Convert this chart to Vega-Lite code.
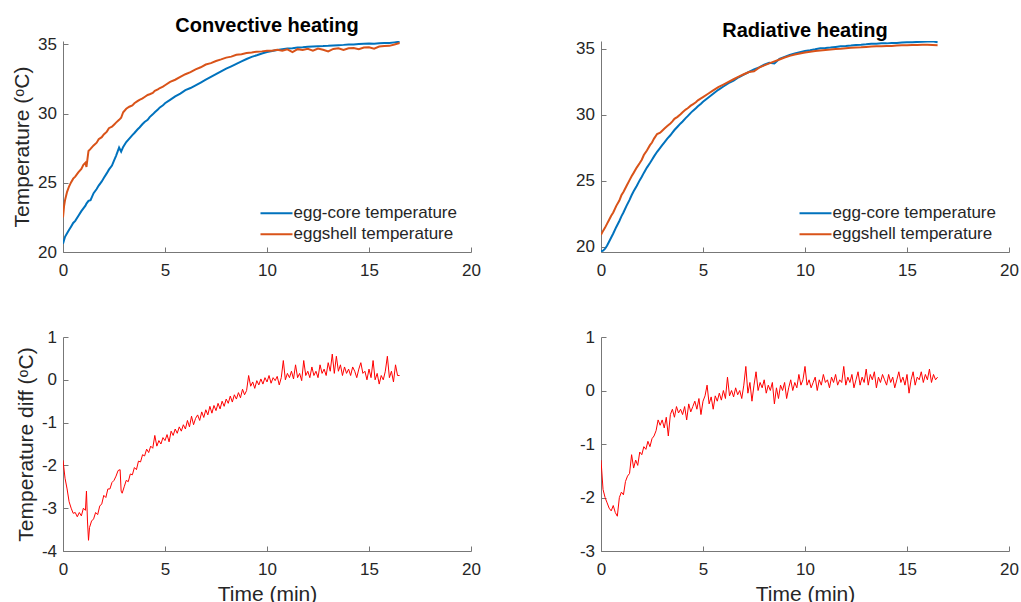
{
"$schema": "https://vega.github.io/schema/vega-lite/v6.json",
"background": "white",
"padding": {"left": 11, "top": 16, "right": 5, "bottom": 5},
"columns": 2,
"spacing": {"row": 85, "column": 130},
"bounds": "flush",
"resolve": {"scale": {"x": "independent", "y": "independent", "color": "independent"}, "legend": {"color": "independent"}},
"config": {
  "font": "Liberation Sans",
  "view": {"stroke": null},
  "title": {"fontSize": 20, "fontWeight": "bold", "color": "#000000", "frame": "group", "anchor": "middle", "baseline": "alphabetic", "offset": -1},
  "axis": {"grid": false, "labelFontSize": 17, "labelColor": "#262626", "titleFontSize": 21, "titleFontWeight": "normal", "titleColor": "#262626", "domainColor": "#777777", "tickColor": "#777777", "tickSize": -5, "labelFlush": false, "labelOverlap": false},
  "axisX": {"labelPadding": 15},
  "axisY": {"labelPadding": 11.5, "titleBaseline": "alphabetic", "titleAngle": -90}
},
"datasets": {
"convTop": [
{"t":0,"core":20.6,"shell":22.5},{"t":0.05,"core":20.85,"shell":23.3},{"t":0.1,"core":21.1,"shell":23.75},{"t":0.2,"core":21.35,"shell":24.35},{"t":0.3,"core":21.6,"shell":24.75},{"t":0.4,"core":21.85,"shell":25.05},{"t":0.5,"core":22.1,"shell":25.3},{"t":0.6,"core":22.25,"shell":25.45},{"t":0.75,"core":22.6,"shell":25.75},{"t":0.9,"core":22.95,"shell":26.0},{"t":1.0,"core":23.15,"shell":26.3},{"t":1.1,"core":23.35,"shell":26.45},{"t":1.15,"core":23.5,"shell":26.15},{"t":1.25,"core":23.7,"shell":27.3},{"t":1.35,"core":23.75,"shell":27.45},{"t":1.5,"core":24.25,"shell":27.7},{"t":1.65,"core":24.55,"shell":27.9},{"t":1.75,"core":24.8,"shell":28.15},{"t":1.9,"core":25.1,"shell":28.3},{"t":2.0,"core":25.35,"shell":28.5},{"t":2.15,"core":25.7,"shell":28.7},{"t":2.25,"core":25.95,"shell":28.95},{"t":2.4,"core":26.25,"shell":29.05},{"t":2.5,"core":26.6,"shell":29.2},{"t":2.6,"core":26.95,"shell":29.35},{"t":2.75,"core":27.55,"shell":29.55},{"t":2.85,"core":27.25,"shell":29.7},{"t":2.95,"core":27.6,"shell":30.1},{"t":3.1,"core":27.95,"shell":30.35},{"t":3.25,"core":28.2,"shell":30.5},{"t":3.4,"core":28.45,"shell":30.6},{"t":3.5,"core":28.6,"shell":30.75},{"t":3.65,"core":28.85,"shell":30.9},{"t":3.75,"core":29.0,"shell":31.0},{"t":3.9,"core":29.25,"shell":31.1},{"t":4.0,"core":29.4,"shell":31.2},{"t":4.15,"core":29.55,"shell":31.35},{"t":4.25,"core":29.75,"shell":31.4},{"t":4.4,"core":29.95,"shell":31.5},{"t":4.5,"core":30.1,"shell":31.65},{"t":4.65,"core":30.3,"shell":31.75},{"t":4.75,"core":30.45,"shell":31.85},{"t":4.9,"core":30.6,"shell":31.95},{"t":5.0,"core":30.75,"shell":32.05},{"t":5.25,"core":31.0,"shell":32.3},{"t":5.5,"core":31.25,"shell":32.45},{"t":5.75,"core":31.45,"shell":32.65},{"t":6.0,"core":31.7,"shell":32.85},{"t":6.25,"core":31.85,"shell":33.0},{"t":6.5,"core":32.05,"shell":33.2},{"t":6.75,"core":32.25,"shell":33.35},{"t":7.0,"core":32.45,"shell":33.55},{"t":7.25,"core":32.65,"shell":33.65},{"t":7.5,"core":32.85,"shell":33.8},{"t":7.75,"core":33.05,"shell":33.92},{"t":8.0,"core":33.25,"shell":34.05},{"t":8.25,"core":33.42,"shell":34.12},{"t":8.5,"core":33.6,"shell":34.25},{"t":8.75,"core":33.78,"shell":34.3},{"t":9.0,"core":33.95,"shell":34.38},{"t":9.25,"core":34.1,"shell":34.42},{"t":9.5,"core":34.22,"shell":34.48},{"t":9.75,"core":34.35,"shell":34.5},{"t":10.0,"core":34.45,"shell":34.55},{"t":10.25,"core":34.52,"shell":34.55},{"t":10.5,"core":34.6,"shell":34.62},{"t":10.75,"core":34.65,"shell":34.55},{"t":11.0,"core":34.7,"shell":34.65},{"t":11.25,"core":34.72,"shell":34.45},{"t":11.5,"core":34.78,"shell":34.66},{"t":11.75,"core":34.8,"shell":34.6},{"t":12.0,"core":34.83,"shell":34.68},{"t":12.25,"core":34.85,"shell":34.55},{"t":12.5,"core":34.87,"shell":34.7},{"t":12.75,"core":34.88,"shell":34.62},{"t":13.0,"core":34.9,"shell":34.5},{"t":13.25,"core":34.93,"shell":34.68},{"t":13.5,"core":34.95,"shell":34.72},{"t":13.75,"core":34.97,"shell":34.6},{"t":14.0,"core":35.0,"shell":34.72},{"t":14.25,"core":35.0,"shell":34.75},{"t":14.5,"core":35.03,"shell":34.65},{"t":14.75,"core":35.05,"shell":34.78},{"t":15.0,"core":35.07,"shell":34.8},{"t":15.25,"core":35.06,"shell":34.7},{"t":15.5,"core":35.08,"shell":34.85},{"t":15.75,"core":35.1,"shell":34.88},{"t":16.0,"core":35.1,"shell":34.9},{"t":16.25,"core":35.15,"shell":35.0},{"t":16.5,"core":35.2,"shell":35.1}
],
"radTop": [
{"t":0,"core":19.65,"shell":20.9},{"t":0.1,"core":19.7,"shell":21.2},{"t":0.2,"core":19.85,"shell":21.45},{"t":0.3,"core":20.1,"shell":21.75},{"t":0.4,"core":20.4,"shell":22.05},{"t":0.5,"core":20.7,"shell":22.35},{"t":0.6,"core":21.0,"shell":22.6},{"t":0.75,"core":21.5,"shell":23.1},{"t":0.9,"core":21.95,"shell":23.5},{"t":1.0,"core":22.3,"shell":23.9},{"t":1.1,"core":22.6,"shell":24.15},{"t":1.25,"core":23.1,"shell":24.6},{"t":1.4,"core":23.55,"shell":25.05},{"t":1.5,"core":23.9,"shell":25.35},{"t":1.6,"core":24.2,"shell":25.6},{"t":1.75,"core":24.6,"shell":26.0},{"t":1.9,"core":25.05,"shell":26.35},{"t":2.0,"core":25.3,"shell":26.6},{"t":2.1,"core":25.6,"shell":26.95},{"t":2.25,"core":26.0,"shell":27.3},{"t":2.4,"core":26.35,"shell":27.7},{"t":2.5,"core":26.6,"shell":27.9},{"t":2.6,"core":26.85,"shell":28.2},{"t":2.75,"core":27.2,"shell":28.55},{"t":2.9,"core":27.5,"shell":28.65},{"t":3.0,"core":27.7,"shell":28.8},{"t":3.1,"core":27.9,"shell":28.95},{"t":3.25,"core":28.2,"shell":29.15},{"t":3.4,"core":28.45,"shell":29.35},{"t":3.5,"core":28.65,"shell":29.5},{"t":3.6,"core":28.85,"shell":29.7},{"t":3.75,"core":29.1,"shell":29.85},{"t":3.9,"core":29.35,"shell":30.05},{"t":4.0,"core":29.5,"shell":30.2},{"t":4.15,"core":29.75,"shell":30.4},{"t":4.25,"core":29.9,"shell":30.5},{"t":4.4,"core":30.15,"shell":30.7},{"t":4.5,"core":30.3,"shell":30.8},{"t":4.65,"core":30.5,"shell":30.95},{"t":4.75,"core":30.65,"shell":31.1},{"t":4.9,"core":30.85,"shell":31.25},{"t":5.0,"core":31.0,"shell":31.35},{"t":5.25,"core":31.3,"shell":31.6},{"t":5.5,"core":31.6,"shell":31.85},{"t":5.75,"core":31.9,"shell":32.1},{"t":6.0,"core":32.15,"shell":32.3},{"t":6.25,"core":32.4,"shell":32.5},{"t":6.5,"core":32.6,"shell":32.7},{"t":6.75,"core":32.85,"shell":32.9},{"t":7.0,"core":33.05,"shell":33.08},{"t":7.25,"core":33.25,"shell":33.25},{"t":7.5,"core":33.45,"shell":33.3},{"t":7.75,"core":33.6,"shell":33.58},{"t":8.0,"core":33.8,"shell":33.75},{"t":8.25,"core":33.95,"shell":33.9},{"t":8.5,"core":33.9,"shell":34.05},{"t":8.75,"core":34.25,"shell":34.2},{"t":9.0,"core":34.4,"shell":34.35},{"t":9.25,"core":34.55,"shell":34.47},{"t":9.5,"core":34.65,"shell":34.57},{"t":9.75,"core":34.75,"shell":34.65},{"t":10.0,"core":34.85,"shell":34.72},{"t":10.25,"core":34.9,"shell":34.78},{"t":10.5,"core":34.97,"shell":34.84},{"t":10.75,"core":35.05,"shell":34.88},{"t":11.0,"core":35.07,"shell":34.92},{"t":11.25,"core":35.1,"shell":34.95},{"t":11.5,"core":35.15,"shell":35.0},{"t":11.75,"core":35.2,"shell":35.02},{"t":12.0,"core":35.22,"shell":35.05},{"t":12.25,"core":35.25,"shell":35.08},{"t":12.5,"core":35.3,"shell":35.1},{"t":12.75,"core":35.32,"shell":35.12},{"t":13.0,"core":35.35,"shell":35.15},{"t":13.25,"core":35.4,"shell":35.18},{"t":13.5,"core":35.4,"shell":35.2},{"t":13.75,"core":35.42,"shell":35.2},{"t":14.0,"core":35.42,"shell":35.22},{"t":14.25,"core":35.45,"shell":35.23},{"t":14.5,"core":35.45,"shell":35.25},{"t":14.75,"core":35.48,"shell":35.27},{"t":15.0,"core":35.5,"shell":35.28},{"t":15.25,"core":35.5,"shell":35.3},{"t":15.5,"core":35.53,"shell":35.3},{"t":15.75,"core":35.55,"shell":35.32},{"t":16.0,"core":35.56,"shell":35.32},{"t":16.25,"core":35.58,"shell":35.3},{"t":16.5,"core":35.5,"shell":35.28}
],
"convDiff": [
{"t":0,"d":-1.88},{"t":0.1,"d":-2.3},{"t":0.2,"d":-2.55},{"t":0.3,"d":-2.85},{"t":0.4,"d":-3.0},{"t":0.5,"d":-3.12},{"t":0.6,"d":-3.1},{"t":0.7,"d":-3.2},{"t":0.8,"d":-3.1},{"t":0.9,"d":-3.18},{"t":1.0,"d":-3.0},{"t":1.1,"d":-3.05},{"t":1.15,"d":-2.6},{"t":1.2,"d":-3.3},{"t":1.25,"d":-3.75},{"t":1.3,"d":-3.45},{"t":1.4,"d":-3.3},{"t":1.5,"d":-3.25},{"t":1.6,"d":-3.1},{"t":1.7,"d":-3.15},{"t":1.8,"d":-2.95},{"t":1.9,"d":-2.9},{"t":2.0,"d":-2.7},{"t":2.1,"d":-2.75},{"t":2.2,"d":-2.55},{"t":2.3,"d":-2.55},{"t":2.4,"d":-2.4},{"t":2.5,"d":-2.35},{"t":2.6,"d":-2.25},{"t":2.7,"d":-2.12},{"t":2.8,"d":-2.1},{"t":2.85,"d":-2.6},{"t":2.9,"d":-2.65},{"t":3.0,"d":-2.5},{"t":3.1,"d":-2.35},{"t":3.2,"d":-2.38},{"t":3.3,"d":-2.2},{"t":3.4,"d":-2.22},{"t":3.5,"d":-2.05},{"t":3.6,"d":-2.1},{"t":3.7,"d":-1.9},{"t":3.8,"d":-1.92},{"t":3.9,"d":-1.75},{"t":4.0,"d":-1.78},{"t":4.1,"d":-1.62},{"t":4.2,"d":-1.7},{"t":4.3,"d":-1.55},{"t":4.4,"d":-1.6},{"t":4.5,"d":-1.3},{"t":4.6,"d":-1.55},{"t":4.7,"d":-1.42},{"t":4.8,"d":-1.5},{"t":4.9,"d":-1.35},{"t":5.0,"d":-1.42},{"t":5.1,"d":-1.28},{"t":5.2,"d":-1.45},{"t":5.3,"d":-1.2},{"t":5.4,"d":-1.3},{"t":5.5,"d":-1.15},{"t":5.6,"d":-1.25},{"t":5.7,"d":-1.1},{"t":5.8,"d":-1.2},{"t":5.9,"d":-1.05},{"t":6.0,"d":-1.15},{"t":6.1,"d":-0.95},{"t":6.2,"d":-1.1},{"t":6.3,"d":-0.85},{"t":6.4,"d":-1.05},{"t":6.5,"d":-0.9},{"t":6.6,"d":-0.82},{"t":6.7,"d":-0.95},{"t":6.8,"d":-0.75},{"t":6.9,"d":-0.88},{"t":7.0,"d":-0.7},{"t":7.1,"d":-0.82},{"t":7.2,"d":-0.62},{"t":7.3,"d":-0.78},{"t":7.4,"d":-0.6},{"t":7.5,"d":-0.72},{"t":7.6,"d":-0.55},{"t":7.7,"d":-0.68},{"t":7.8,"d":-0.5},{"t":7.9,"d":-0.62},{"t":8.0,"d":-0.45},{"t":8.1,"d":-0.55},{"t":8.2,"d":-0.38},{"t":8.3,"d":-0.52},{"t":8.4,"d":-0.35},{"t":8.5,"d":-0.45},{"t":8.6,"d":-0.3},{"t":8.7,"d":-0.42},{"t":8.8,"d":-0.22},{"t":8.9,"d":-0.35},{"t":9.0,"d":-0.25},{"t":9.1,"d":0.1},{"t":9.2,"d":-0.15},{"t":9.3,"d":-0.05},{"t":9.4,"d":-0.2},{"t":9.5,"d":-0.02},{"t":9.6,"d":-0.12},{"t":9.7,"d":0.02},{"t":9.8,"d":-0.1},{"t":9.9,"d":0.05},{"t":10.0,"d":-0.05},{"t":10.1,"d":0.1},{"t":10.2,"d":-0.08},{"t":10.3,"d":0.05},{"t":10.4,"d":-0.02},{"t":10.5,"d":0.08},{"t":10.6,"d":-0.12},{"t":10.7,"d":0.05},{"t":10.8,"d":0.45},{"t":10.9,"d":0.0},{"t":11.0,"d":0.15},{"t":11.1,"d":0.05},{"t":11.2,"d":0.2},{"t":11.3,"d":0.02},{"t":11.4,"d":0.35},{"t":11.5,"d":0.05},{"t":11.6,"d":0.15},{"t":11.7,"d":-0.02},{"t":11.8,"d":0.45},{"t":11.9,"d":0.1},{"t":12.0,"d":0.2},{"t":12.1,"d":0.05},{"t":12.2,"d":0.3},{"t":12.3,"d":0.1},{"t":12.4,"d":0.2},{"t":12.5,"d":0.05},{"t":12.6,"d":0.35},{"t":12.7,"d":0.15},{"t":12.8,"d":0.25},{"t":12.9,"d":0.1},{"t":13.0,"d":0.4},{"t":13.1,"d":0.2},{"t":13.2,"d":0.6},{"t":13.3,"d":0.15},{"t":13.4,"d":0.55},{"t":13.5,"d":0.2},{"t":13.6,"d":0.35},{"t":13.7,"d":0.1},{"t":13.8,"d":0.3},{"t":13.9,"d":0.15},{"t":14.0,"d":0.25},{"t":14.1,"d":0.1},{"t":14.2,"d":0.3},{"t":14.3,"d":0.2},{"t":14.4,"d":0.05},{"t":14.5,"d":0.25},{"t":14.6,"d":0.4},{"t":14.7,"d":0.15},{"t":14.8,"d":0.2},{"t":14.9,"d":0.0},{"t":15.0,"d":0.25},{"t":15.1,"d":0.05},{"t":15.2,"d":0.45},{"t":15.3,"d":0.0},{"t":15.4,"d":0.15},{"t":15.5,"d":-0.1},{"t":15.6,"d":0.1},{"t":15.7,"d":0.0},{"t":15.8,"d":0.2},{"t":15.9,"d":0.55},{"t":16.0,"d":0.05},{"t":16.1,"d":0.2},{"t":16.2,"d":-0.05},{"t":16.3,"d":0.35},{"t":16.4,"d":0.1},{"t":16.5,"d":0.1}
],
"radDiff": [
{"t":0,"d":-1.3},{"t":0.1,"d":-1.85},{"t":0.2,"d":-2.0},{"t":0.3,"d":-2.1},{"t":0.4,"d":-2.2},{"t":0.5,"d":-2.25},{"t":0.6,"d":-2.15},{"t":0.7,"d":-2.28},{"t":0.8,"d":-2.35},{"t":0.9,"d":-2.0},{"t":1.0,"d":-1.9},{"t":1.1,"d":-1.95},{"t":1.2,"d":-1.7},{"t":1.3,"d":-1.6},{"t":1.4,"d":-1.55},{"t":1.5,"d":-1.2},{"t":1.6,"d":-1.45},{"t":1.7,"d":-1.3},{"t":1.8,"d":-1.4},{"t":1.9,"d":-1.15},{"t":2.0,"d":-1.2},{"t":2.1,"d":-1.05},{"t":2.2,"d":-1.1},{"t":2.3,"d":-0.95},{"t":2.4,"d":-1.05},{"t":2.5,"d":-0.9},{"t":2.6,"d":-0.85},{"t":2.7,"d":-0.75},{"t":2.8,"d":-0.55},{"t":2.9,"d":-0.65},{"t":3.0,"d":-0.55},{"t":3.1,"d":-0.7},{"t":3.2,"d":-0.5},{"t":3.3,"d":-0.85},{"t":3.4,"d":-0.45},{"t":3.5,"d":-0.35},{"t":3.6,"d":-0.5},{"t":3.7,"d":-0.3},{"t":3.8,"d":-0.42},{"t":3.9,"d":-0.35},{"t":4.0,"d":-0.45},{"t":4.1,"d":-0.3},{"t":4.2,"d":-0.55},{"t":4.3,"d":-0.25},{"t":4.4,"d":-0.4},{"t":4.5,"d":-0.3},{"t":4.6,"d":-0.2},{"t":4.7,"d":-0.35},{"t":4.8,"d":-0.15},{"t":4.9,"d":-0.45},{"t":5.0,"d":-0.2},{"t":5.1,"d":-0.1},{"t":5.2,"d":0.1},{"t":5.3,"d":-0.25},{"t":5.4,"d":-0.12},{"t":5.5,"d":-0.35},{"t":5.6,"d":-0.1},{"t":5.7,"d":-0.2},{"t":5.8,"d":-0.05},{"t":5.9,"d":-0.18},{"t":6.0,"d":0.0},{"t":6.1,"d":-0.15},{"t":6.2,"d":0.25},{"t":6.3,"d":-0.1},{"t":6.4,"d":0.0},{"t":6.5,"d":-0.12},{"t":6.6,"d":0.05},{"t":6.7,"d":-0.08},{"t":6.8,"d":0.0},{"t":6.9,"d":-0.15},{"t":7.0,"d":0.1},{"t":7.1,"d":0.45},{"t":7.2,"d":-0.05},{"t":7.3,"d":0.15},{"t":7.4,"d":-0.2},{"t":7.5,"d":0.1},{"t":7.6,"d":0.35},{"t":7.7,"d":0.0},{"t":7.8,"d":0.15},{"t":7.9,"d":0.05},{"t":8.0,"d":0.2},{"t":8.1,"d":-0.05},{"t":8.2,"d":0.1},{"t":8.3,"d":0.0},{"t":8.4,"d":0.15},{"t":8.5,"d":-0.25},{"t":8.6,"d":0.05},{"t":8.7,"d":-0.15},{"t":8.8,"d":0.1},{"t":8.9,"d":0.0},{"t":9.0,"d":0.15},{"t":9.1,"d":-0.15},{"t":9.2,"d":0.05},{"t":9.3,"d":0.2},{"t":9.4,"d":0.0},{"t":9.5,"d":0.15},{"t":9.6,"d":0.05},{"t":9.7,"d":0.3},{"t":9.8,"d":0.1},{"t":9.9,"d":0.2},{"t":10.0,"d":0.45},{"t":10.1,"d":0.1},{"t":10.2,"d":0.2},{"t":10.3,"d":0.05},{"t":10.4,"d":0.15},{"t":10.5,"d":0.25},{"t":10.6,"d":0.0},{"t":10.7,"d":0.2},{"t":10.8,"d":0.1},{"t":10.9,"d":0.3},{"t":11.0,"d":0.15},{"t":11.1,"d":0.2},{"t":11.2,"d":0.05},{"t":11.3,"d":0.25},{"t":11.4,"d":0.15},{"t":11.5,"d":0.3},{"t":11.6,"d":0.1},{"t":11.7,"d":0.2},{"t":11.8,"d":0.15},{"t":11.9,"d":0.45},{"t":12.0,"d":0.1},{"t":12.1,"d":0.25},{"t":12.2,"d":0.15},{"t":12.3,"d":0.3},{"t":12.4,"d":0.05},{"t":12.5,"d":0.2},{"t":12.6,"d":0.35},{"t":12.7,"d":0.1},{"t":12.8,"d":0.25},{"t":12.9,"d":0.15},{"t":13.0,"d":0.4},{"t":13.1,"d":0.1},{"t":13.2,"d":0.3},{"t":13.3,"d":0.2},{"t":13.4,"d":0.35},{"t":13.5,"d":0.05},{"t":13.6,"d":0.25},{"t":13.7,"d":0.15},{"t":13.8,"d":0.3},{"t":13.9,"d":0.2},{"t":14.0,"d":0.1},{"t":14.1,"d":0.3},{"t":14.2,"d":0.15},{"t":14.3,"d":0.25},{"t":14.4,"d":0.05},{"t":14.5,"d":0.2},{"t":14.6,"d":0.35},{"t":14.7,"d":0.15},{"t":14.8,"d":0.25},{"t":14.9,"d":0.1},{"t":15.0,"d":0.3},{"t":15.1,"d":-0.05},{"t":15.2,"d":0.2},{"t":15.3,"d":0.35},{"t":15.4,"d":0.1},{"t":15.5,"d":0.25},{"t":15.6,"d":0.2},{"t":15.7,"d":0.35},{"t":15.8,"d":0.15},{"t":15.9,"d":0.3},{"t":16.0,"d":0.2},{"t":16.1,"d":0.4},{"t":16.2,"d":0.15},{"t":16.3,"d":0.3},{"t":16.4,"d":0.2},{"t":16.5,"d":0.25}
]
},
"concat": [
{
  "width": 408, "height": 211,
  "data": {"name": "convTop"},
  "transform": [{"fold": ["core", "shell"], "as": ["series", "temp"]}],
  "title": {"text": "Convective heating"},
  "mark": {"type": "line", "strokeWidth": 2, "clip": true},
  "encoding": {
    "x": {"field": "t", "type": "quantitative", "scale": {"domain": [0, 20], "nice": false}, "axis": {"values": [0, 5, 10, 15, 20], "title": null}},
    "y": {"field": "temp", "type": "quantitative", "scale": {"domain": [20, 35.25], "nice": false, "zero": false}, "axis": {"values": [20, 25, 30, 35], "title": "Temperature (ᵒC)", "titleX": -34.5}},
    "color": {"field": "series", "type": "nominal", "scale": {"domain": ["core", "shell"], "range": ["#0072BD", "#D95319"]},
      "legend": {"orient": "none", "legendX": 196.5, "legendY": 161.8, "title": null, "symbolType": "stroke", "symbolSize": 1024, "symbolStrokeWidth": 2, "clipHeight": 21, "rowPadding": 0, "labelOffset": 0, "labelFontSize": 17, "labelColor": "#262626", "labelLimit": 300, "labelExpr": "datum.label == 'core' ? 'egg-core temperature' : 'eggshell temperature'"}}
  }
},
{
  "width": 408, "height": 211,
  "data": {"name": "radTop"},
  "transform": [{"fold": ["core", "shell"], "as": ["series", "temp"]}],
  "title": {"text": "Radiative heating"},
  "mark": {"type": "line", "strokeWidth": 2, "clip": true},
  "encoding": {
    "x": {"field": "t", "type": "quantitative", "scale": {"domain": [0, 20], "nice": false}, "axis": {"values": [0, 5, 10, 15, 20], "title": null}},
    "y": {"field": "temp", "type": "quantitative", "scale": {"domain": [19.6, 35.6], "nice": false, "zero": false}, "axis": {"values": [20, 25, 30, 35], "title": null}},
    "color": {"field": "series", "type": "nominal", "scale": {"domain": ["core", "shell"], "range": ["#0072BD", "#D95319"]},
      "legend": {"orient": "none", "legendX": 197.5, "legendY": 161.8, "title": null, "symbolType": "stroke", "symbolSize": 1024, "symbolStrokeWidth": 2, "clipHeight": 21, "rowPadding": 0, "labelOffset": 0, "labelFontSize": 17, "labelColor": "#262626", "labelLimit": 300, "labelExpr": "datum.label == 'core' ? 'egg-core temperature' : 'eggshell temperature'"}}
  }
},
{
  "width": 408, "height": 214,
  "data": {"name": "convDiff"},
  "mark": {"type": "line", "strokeWidth": 1, "color": "#FF0000", "clip": true},
  "encoding": {
    "x": {"field": "t", "type": "quantitative", "scale": {"domain": [0, 20], "nice": false}, "axis": {"values": [0, 5, 10, 15, 20], "title": "Time (min)", "titleY": 49, "titleBaseline": "alphabetic"}},
    "y": {"field": "d", "type": "quantitative", "scale": {"domain": [-4, 1], "nice": false, "zero": false}, "axis": {"values": [-4, -3, -2, -1, 0, 1], "title": "Temperature diff (ᵒC)", "titleX": -30.5, "labelExpr": "datum.value < 0 ? '-' + abs(datum.value) : '' + datum.value"}}
  }
},
{
  "width": 408, "height": 214,
  "data": {"name": "radDiff"},
  "mark": {"type": "line", "strokeWidth": 1, "color": "#FF0000", "clip": true},
  "encoding": {
    "x": {"field": "t", "type": "quantitative", "scale": {"domain": [0, 20], "nice": false}, "axis": {"values": [0, 5, 10, 15, 20], "title": "Time (min)", "titleY": 49, "titleBaseline": "alphabetic"}},
    "y": {"field": "d", "type": "quantitative", "scale": {"domain": [-3, 1], "nice": false, "zero": false}, "axis": {"values": [-3, -2, -1, 0, 1], "title": null, "labelExpr": "datum.value < 0 ? '-' + abs(datum.value) : '' + datum.value"}}
  }
}
]
}
